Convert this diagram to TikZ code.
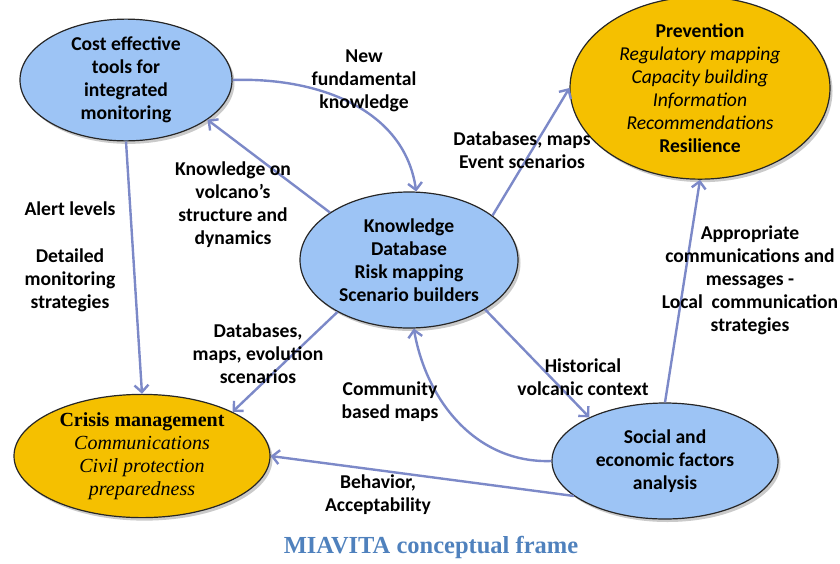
\documentclass[tikz,border=0pt]{standalone}
\usepackage{fontspec}
\setmainfont{Carlito}
\newfontfamily\timesf{Liberation Serif}
\usetikzlibrary{shapes.geometric,arrows.meta,shadows}
\definecolor{bluefill}{RGB}{157,196,245}
\definecolor{goldfill}{RGB}{245,192,0}
\definecolor{edgec}{RGB}{124,137,200}
\definecolor{titlec}{RGB}{79,129,189}
\begin{document}
\begin{tikzpicture}[x=1pt,y=-1pt,
  font=\fontsize{19.6}{23}\selectfont\bfseries,
  oval/.style={ellipse, draw=black!85, line width=1.2pt, inner sep=0pt, align=center,
    drop shadow={shadow xshift=2.5pt, shadow yshift=-3pt, opacity=0.35, fill=black!60}},
  blueoval/.style={oval, fill=bluefill},
  goldoval/.style={oval, fill=goldfill},
  arr/.style={draw=edgec, line width=2.4pt, -{Straight Barb[length=7pt,width=14pt,line width=2.4pt]}},
  lbl/.style={align=center, inner sep=0pt}
]
\useasboundingbox (0,0) rectangle (840,563);

\node[blueoval, minimum width=212, minimum height=120] (cost) at (126,80)
  {Cost effective\\tools for\\integrated\\monitoring};
\node[goldoval, minimum width=260, minimum height=166] (prev) at (700,88)
  {Prevention\\{\mdseries\itshape Regulatory mapping}\\{\mdseries\itshape Capacity building}\\{\mdseries\itshape Information}\\{\mdseries\itshape Recommendations}\\Resilience};
\node[blueoval, minimum width=218, minimum height=136] (know) at (409,260)
  {Knowledge\\Database\\Risk mapping\\Scenario builders};
\node[goldoval, minimum width=256, minimum height=116, font=\timesf\fontsize{20}{23}\selectfont] (crisis) at (142,456)
  {\bfseries Crisis management\\{\itshape Communications}\\{\itshape Civil protection}\\{\itshape preparedness}};
\node[blueoval, minimum width=226, minimum height=116] (soc) at (665,461)
  {Social and\\economic factors\\analysis};

% connectors
\draw[arr] (cost.east) to[out=2,in=98] (know.84);
\draw[arr] (know.149) -- (cost.-26);
\draw[arr] (cost.south) -- (crisis.north);
\draw[arr] (know.28) -- (prev.180);
\draw[arr] (know.216) -- (crisis.26);
\draw[arr] (know.-33) -- (soc.150);
\draw[arr] (soc.west) to[out=182,in=-80] (know.-86);
\draw[arr] (soc.201) -- (crisis.east);
\draw[arr] (soc.north) -- (prev.south);

% labels
\node[lbl] (l1) at (364,81) {New\\fundamental\\knowledge};
\node[lbl] (l2) at (522,150) {Databases, maps\\Event scenarios};
\node[lbl] (l3) at (233,205) {Knowledge on\\volcano’s\\structure and\\dynamics};
\node[lbl] (l4a) at (70,209) {Alert levels};
\node[lbl] (l4b) at (70,280) {Detailed\\monitoring\\strategies};
\node[lbl] (l5) at (750,280) {Appropriate\\communications and\\messages -\\Local\ \ communication\\strategies};
\node[lbl] (l6) at (258,354) {Databases,\\maps, evolution\\scenarios};
\node[lbl] (l7) at (583,377) {Historical\\volcanic context};
\node[lbl] (l8) at (390,402) {Community\\based maps};
\node[lbl] (l9) at (378,495) {Behavior,\\Acceptability};

\node[lbl, font=\timesf\bfseries\fontsize{24.5}{28}\selectfont, text=titlec] (title) at (431,547) {MIAVITA conceptual frame};
\end{tikzpicture}
\end{document}
